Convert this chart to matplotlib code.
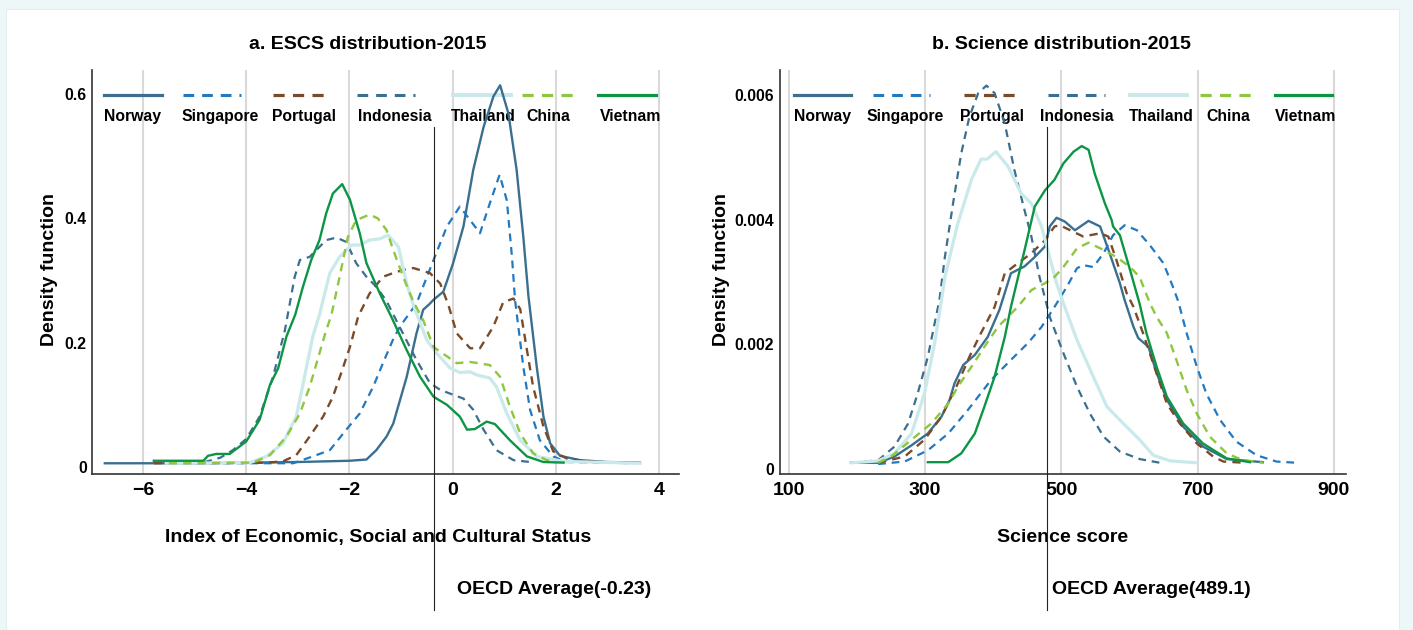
import matplotlib
matplotlib.use("Agg")
import matplotlib.pyplot as plt
from matplotlib.patches import Rectangle

plt.rcParams['font.family'] = ['Liberation Sans', 'DejaVu Sans']
plt.rcParams['font.weight'] = 'bold'
plt.rcParams['axes.unicode_minus'] = True
plt.rcParams['lines.solid_joinstyle'] = 'round'
plt.rcParams['lines.dash_joinstyle'] = 'round'

countries = ['Norway', 'Singapore', 'Portugal', 'Indonesia', 'Thailand', 'China', 'Vietnam']

# ---- panel a: ESCS density curves ----
escs_norway_x = [-6.74, -5.0, -3.0, -2.0, -1.67, -1.48, -1.28, -1.15, -0.89, -0.70, -0.57, -0.45, -0.37, -0.18,
                 0.01, 0.21, 0.40, 0.60, 0.79, 0.92, 1.08, 1.24, 1.37, 1.47, 1.63, 1.76, 1.89, 2.08, 2.47, 3.0, 3.63]
escs_norway_y = [0.006, 0.006, 0.008, 0.010, 0.012, 0.027, 0.049, 0.070, 0.145, 0.215, 0.253, 0.262, 0.269, 0.282,
                 0.328, 0.387, 0.478, 0.547, 0.596, 0.614, 0.569, 0.478, 0.370, 0.274, 0.161, 0.081, 0.038, 0.018, 0.011, 0.008, 0.007]
escs_singapore_x = [-5.5, -4.0, -3.09, -2.71, -2.38, -2.06, -1.80, -1.54, -1.35, -1.16, -1.02, -0.70, -0.37, -0.11,
                    0.14, 0.34, 0.53, 0.72, 0.91, 1.05, 1.15, 1.21, 1.37, 1.50, 1.69, 1.95, 2.2, 3.0, 3.5]
escs_singapore_y = [0.006, 0.006, 0.006, 0.017, 0.027, 0.060, 0.086, 0.129, 0.167, 0.204, 0.226, 0.263, 0.333, 0.387,
                    0.419, 0.397, 0.376, 0.424, 0.470, 0.429, 0.338, 0.268, 0.161, 0.092, 0.043, 0.017, 0.008, 0.007, 0.006]
escs_portugal_x = [-5.79, -4.5, -3.61, -3.29, -3.03, -2.77, -2.51, -2.32, -2.16, -1.99, -1.83, -1.61, -1.35, -1.15,
                   -0.96, -0.76, -0.44, -0.24, -0.08, 0.08, 0.34, 0.53, 0.79, 0.98, 1.18, 1.31, 1.44, 1.56, 1.76, 1.95, 2.25, 3.0]
escs_portugal_y = [0.006, 0.006, 0.007, 0.009, 0.019, 0.049, 0.081, 0.113, 0.151, 0.193, 0.242, 0.279, 0.306, 0.312,
                   0.317, 0.320, 0.312, 0.295, 0.260, 0.215, 0.191, 0.191, 0.226, 0.265, 0.271, 0.254, 0.188, 0.129, 0.065, 0.025, 0.012, 0.007]
escs_indonesia_x = [-5.6, -4.8, -4.5, -4.26, -4.0, -3.74, -3.48, -3.25, -3.06, -2.96, -2.77, -2.64, -2.45, -2.25,
                    -2.06, -1.87, -1.67, -1.48, -1.28, -1.16, -0.70, -0.44, -0.24, 0.21, 0.40, 0.60, 0.85, 1.18, 1.5]
escs_indonesia_y = [0.006, 0.008, 0.015, 0.027, 0.045, 0.081, 0.145, 0.220, 0.306, 0.333, 0.338, 0.349, 0.365, 0.369,
                    0.362, 0.328, 0.306, 0.290, 0.267, 0.247, 0.172, 0.135, 0.124, 0.110, 0.092, 0.060, 0.027, 0.011, 0.008]
escs_thailand_x = [-5.55, -3.93, -3.61, -3.29, -3.03, -2.87, -2.71, -2.58, -2.38, -2.19, -1.96, -1.80, -1.61, -1.41,
                   -1.25, -1.05, -0.89, -0.76, -0.50, -0.31, -0.05, 0.14, 0.34, 0.47, 0.72, 0.85, 1.05, 1.31, 1.63, 2.15, 3.63]
escs_thailand_y = [0.006, 0.007, 0.017, 0.038, 0.081, 0.145, 0.210, 0.245, 0.312, 0.338, 0.357, 0.357, 0.365, 0.367,
                   0.373, 0.354, 0.295, 0.260, 0.204, 0.183, 0.159, 0.152, 0.153, 0.148, 0.143, 0.129, 0.086, 0.043, 0.017, 0.009, 0.006]
escs_china_x = [-5.5, -3.87, -3.54, -3.22, -2.96, -2.77, -2.58, -2.45, -2.35, -2.19, -2.03, -1.87, -1.61, -1.45,
                -1.28, -1.15, -0.96, -0.76, -0.57, -0.37, 0.08, 0.34, 0.72, 0.92, 1.11, 1.31, 1.56, 1.82, 2.0]
escs_china_y = [0.006, 0.007, 0.019, 0.049, 0.086, 0.129, 0.183, 0.220, 0.244, 0.306, 0.370, 0.397, 0.406, 0.400,
                0.381, 0.349, 0.306, 0.266, 0.236, 0.193, 0.167, 0.169, 0.164, 0.145, 0.097, 0.054, 0.022, 0.011, 0.008]
escs_vietnam_x = [-5.79, -4.83, -4.74, -4.58, -4.32, -4.0, -3.74, -3.54, -3.38, -3.22, -3.05, -2.90, -2.74, -2.58,
                  -2.45, -2.32, -2.14, -1.99, -1.80, -1.67, -1.41, -1.19, -0.89, -0.63, -0.37, -0.11, 0.14, 0.28,
                  0.43, 0.66, 0.82, 1.11, 1.44, 1.76, 2.15]
escs_vietnam_y = [0.010, 0.010, 0.018, 0.021, 0.021, 0.041, 0.076, 0.132, 0.159, 0.210, 0.245, 0.290, 0.333, 0.365,
                  0.408, 0.440, 0.455, 0.430, 0.376, 0.328, 0.279, 0.242, 0.188, 0.145, 0.113, 0.100, 0.081, 0.060,
                  0.061, 0.073, 0.069, 0.043, 0.017, 0.008, 0.007]

# ---- panel b: science score density curves ----
sci_norway_x = [191, 231, 255, 280, 304, 324, 336, 343, 356, 373, 392, 409, 426, 446, 461, 476, 483, 493, 505, 520,
                540, 557, 571, 586, 593, 606, 613, 628, 640, 655, 679, 708, 743, 796]
sci_norway_y = [0.0001, 0.0001, 0.0002, 0.00038, 0.00057, 0.00084, 0.00111, 0.00137, 0.00167, 0.00183, 0.00212,
                0.00255, 0.00314, 0.00325, 0.0034, 0.00357, 0.00389, 0.00403, 0.00397, 0.00383, 0.00398, 0.00389,
                0.00346, 0.00298, 0.00271, 0.00228, 0.0021, 0.00196, 0.00154, 0.00111, 0.00068, 0.00036, 0.00016, 0.00011]
sci_singapore_x = [231, 270, 304, 334, 363, 397, 426, 451, 471, 490, 508, 523, 532, 547, 562, 576, 593, 611, 630,
                   650, 664, 672, 684, 699, 713, 733, 757, 787, 816, 846]
sci_singapore_y = [0.00008, 0.00012, 0.0003, 0.00057, 0.00095, 0.00143, 0.00175, 0.00202, 0.00228, 0.0026, 0.00292,
                   0.00322, 0.00327, 0.00324, 0.00346, 0.00375, 0.00391, 0.00383, 0.00359, 0.0033, 0.00292, 0.00268,
                   0.00218, 0.00164, 0.00121, 0.00079, 0.00044, 0.00022, 0.00012, 0.0001]
sci_portugal_x = [231, 270, 299, 324, 348, 365, 382, 402, 417, 436, 456, 476, 490, 498, 513, 532, 557, 569, 581,
                  596, 606, 620, 640, 655, 674, 699, 723, 738, 770]
sci_portugal_y = [0.0001, 0.0002, 0.00047, 0.00084, 0.00137, 0.0018, 0.00218, 0.0026, 0.00314, 0.0033, 0.00346,
                  0.00367, 0.00389, 0.00391, 0.00383, 0.00373, 0.00378, 0.00373, 0.00335, 0.00282, 0.0026, 0.00218,
                  0.00153, 0.00105, 0.00073, 0.00041, 0.0002, 0.00012, 0.0001]
sci_indonesia_x = [191, 231, 255, 275, 289, 304, 314, 321, 329, 341, 353, 365, 378, 390, 402, 417, 431, 446, 456,
                   468, 478, 483, 503, 523, 542, 562, 586, 615, 645]
sci_indonesia_y = [0.0001, 0.00014, 0.00036, 0.00073, 0.00121, 0.0018, 0.00234, 0.00271, 0.0034, 0.00426, 0.00506,
                   0.00565, 0.00603, 0.00615, 0.00603, 0.00554, 0.0048, 0.00415, 0.00373, 0.00308, 0.00266, 0.00244,
                   0.00186, 0.00132, 0.00089, 0.00052, 0.00028, 0.00016, 0.0001]
sci_thailand_x = [191, 231, 255, 280, 299, 314, 324, 329, 348, 368, 382, 391, 404, 422, 441, 456, 471, 483, 493,
                  503, 523, 547, 567, 591, 615, 635, 660, 699]
sci_thailand_y = [0.0001, 0.00013, 0.00025, 0.00057, 0.00121, 0.00202, 0.00271, 0.00308, 0.00394, 0.00464, 0.00497,
                  0.00497, 0.00509, 0.00485, 0.00442, 0.00426, 0.00389, 0.0034, 0.00298, 0.00266, 0.00207, 0.00148,
                  0.001, 0.00073, 0.00047, 0.00022, 0.00013, 0.0001]
sci_china_x = [231, 250, 280, 309, 334, 348, 368, 387, 407, 436, 456, 476, 490, 503, 523, 540, 557, 581, 601, 615,
               630, 640, 655, 669, 684, 699, 718, 743, 767, 797]
sci_china_y = [0.0001, 0.0002, 0.00047, 0.00073, 0.00105, 0.00132, 0.00164, 0.00196, 0.00228, 0.0026, 0.00287,
               0.00298, 0.00308, 0.00324, 0.00354, 0.00363, 0.00354, 0.0034, 0.00324, 0.00308, 0.00266, 0.00244,
               0.00218, 0.00175, 0.00127, 0.00089, 0.00052, 0.00025, 0.00014, 0.0001]
sci_vietnam_x = [304, 334, 353, 373, 387, 402, 417, 426, 446, 461, 476, 490, 503, 518, 530, 540, 549, 564, 574, 576,
                 586, 601, 615, 625, 640, 655, 679, 708, 743, 777]
sci_vietnam_y = [0.00011, 0.00011, 0.00025, 0.00057, 0.001, 0.00148, 0.00212, 0.0026, 0.00351, 0.00421, 0.00447,
                 0.00464, 0.0049, 0.00509, 0.00518, 0.00512, 0.00474, 0.00426, 0.00399, 0.00389, 0.00375, 0.00319,
                 0.00265, 0.00218, 0.00164, 0.00116, 0.00073, 0.00041, 0.00017, 0.00011]

escs_xticks = [-6, -4, -2, 0, 2, 4]
escs_yticks = [0, 0.2, 0.4, 0.6]
escs_ylabels = ['0', '0.2', '0.4', '0.6']
sci_xticks = [100, 300, 500, 700, 900]
sci_yticks = [0, 0.002, 0.004, 0.006]
sci_ylabels = ['0', '0.002', '0.004', '0.006']

oecd_escs_label = 'OECD Average(-0.23)'
oecd_sci_label = 'OECD Average(489.1)'
oecd_escs_pos = -0.37   # where the line sits in the picture
oecd_sci_pos = 479

# styles
colors = ['#3a6f8f', '#2179c2', '#7a4b28', '#3a6f8f', '#c9e9ea', '#8dc63f', '#0c9544']
dash = (0, (3.5, 2.6))
styles = ['-', dash, dash, dash, '-', dash, '-']
widths = [1.7, 1.6, 1.7, 1.6, 2.3, 1.7, 1.7]

escs_curves = [(escs_norway_x, escs_norway_y), (escs_singapore_x, escs_singapore_y),
               (escs_portugal_x, escs_portugal_y), (escs_indonesia_x, escs_indonesia_y),
               (escs_thailand_x, escs_thailand_y), (escs_china_x, escs_china_y),
               (escs_vietnam_x, escs_vietnam_y)]
sci_curves = [(sci_norway_x, sci_norway_y), (sci_singapore_x, sci_singapore_y),
              (sci_portugal_x, sci_portugal_y), (sci_indonesia_x, sci_indonesia_y),
              (sci_thailand_x, sci_thailand_y), (sci_china_x, sci_china_y),
              (sci_vietnam_x, sci_vietnam_y)]

fig = plt.figure(figsize=(14.13, 6.3), dpi=100, facecolor='#edf7f8')
fig.patches.append(Rectangle((6 / 1413, 0), 1393 / 1413, 1 - 9 / 630, transform=fig.transFigure,
                             facecolor='white', edgecolor='#e3eeee', lw=0.8, zorder=-5))

ax1 = fig.add_axes([0.0654, 0.2476, 0.4149, 0.6413])
ax2 = fig.add_axes([0.5517, 0.2476, 0.4006, 0.6413])

# legend layout (axes fraction), keys on top, names underneath
leg1_key = [0.0198, 0.1546, 0.3075, 0.4514, 0.6152, 0.7329, 0.8626]
leg1_txt = [0.0198, 0.1528, 0.3064, 0.4531, 0.6117, 0.7397, 0.8659]
leg2_key = [0.0254, 0.1650, 0.3267, 0.4742, 0.6191, 0.7428, 0.8752]
leg2_txt = [0.0263, 0.1544, 0.3196, 0.4600, 0.6173, 0.7534, 0.8752]


def setup(ax, curves, xticks, yticks, ylabels, xlim, ylim, xlabel, xlab_x, ylab_x,
          key_x, txt_x, key_len, oecd_pos):
    ax.set_facecolor('none')
    for i, (xs, ys) in enumerate(curves):
        ax.plot(xs, ys, color=colors[i], ls=styles[i], lw=widths[i], zorder=3)
    for i, name in enumerate(countries):
        ax.plot([key_x[i], key_x[i] + key_len], [0.938, 0.938], transform=ax.transAxes,
                color=colors[i], ls=styles[i], lw=widths[i] + 0.6, clip_on=False, zorder=2)
        ax.text(txt_x[i], 0.884, name, transform=ax.transAxes, ha='left', va='center',
                fontsize=11.3, fontweight='bold', zorder=2)
    ax.axvline(oecd_pos, ymin=-0.3366, ymax=0.8589, clip_on=False, color='#222222', lw=0.8, zorder=4)
    ax.set_xlim(*xlim)
    ax.set_ylim(*ylim)
    ax.set_xticks(xticks)
    ax.set_yticks(yticks)
    ax.set_yticklabels(ylabels)
    ax.tick_params(axis='x', length=0, pad=6, labelsize=14)
    ax.tick_params(axis='y', length=0, pad=4, labelsize=11.3)
    ax.grid(axis='x', color='#d9d9d9', lw=1.5, zorder=0)
    ax.set_axisbelow(True)
    for s in ['top', 'right']:
        ax.spines[s].set_visible(False)
    for s in ['left', 'bottom']:
        ax.spines[s].set_color('#333333')
        ax.spines[s].set_linewidth(1.2)
    ax.set_xlabel(xlabel, fontsize=14, fontweight='bold', va='center')
    ax.xaxis.set_label_coords(xlab_x, -0.1577)
    ax.set_ylabel('Density function', fontsize=14, fontweight='bold', va='center')
    ax.yaxis.set_label_coords(ylab_x, 0.505)


setup(ax1, escs_curves, escs_xticks, escs_yticks, escs_ylabels, (-6.98, 4.38), (-0.0113, 0.6386),
      'Index of Economic, Social and Cultural Status', 0.4872, -0.074,
      leg1_key, leg1_txt, 0.099, oecd_escs_pos)
setup(ax2, sci_curves, sci_xticks, sci_yticks, sci_ylabels, (86.2, 917.5), (-0.00008, 0.0064),
      'Science score', 0.5001, -0.1025,
      leg2_key, leg2_txt, 0.1007, oecd_sci_pos)

fig.text(0.2604, 0.9286, 'a. ESCS distribution-2015', ha='center', va='center', fontsize=14, fontweight='bold')
fig.text(0.7512, 0.9286, 'b. Science distribution-2015', ha='center', va='center', fontsize=14, fontweight='bold')
fig.text(0.3234, 0.0635, oecd_escs_label, ha='left', va='center', fontsize=14, fontweight='bold')
fig.text(0.7442, 0.0635, oecd_sci_label, ha='left', va='center', fontsize=14, fontweight='bold')

fig.savefig('out.png', dpi=100, facecolor=fig.get_facecolor())
